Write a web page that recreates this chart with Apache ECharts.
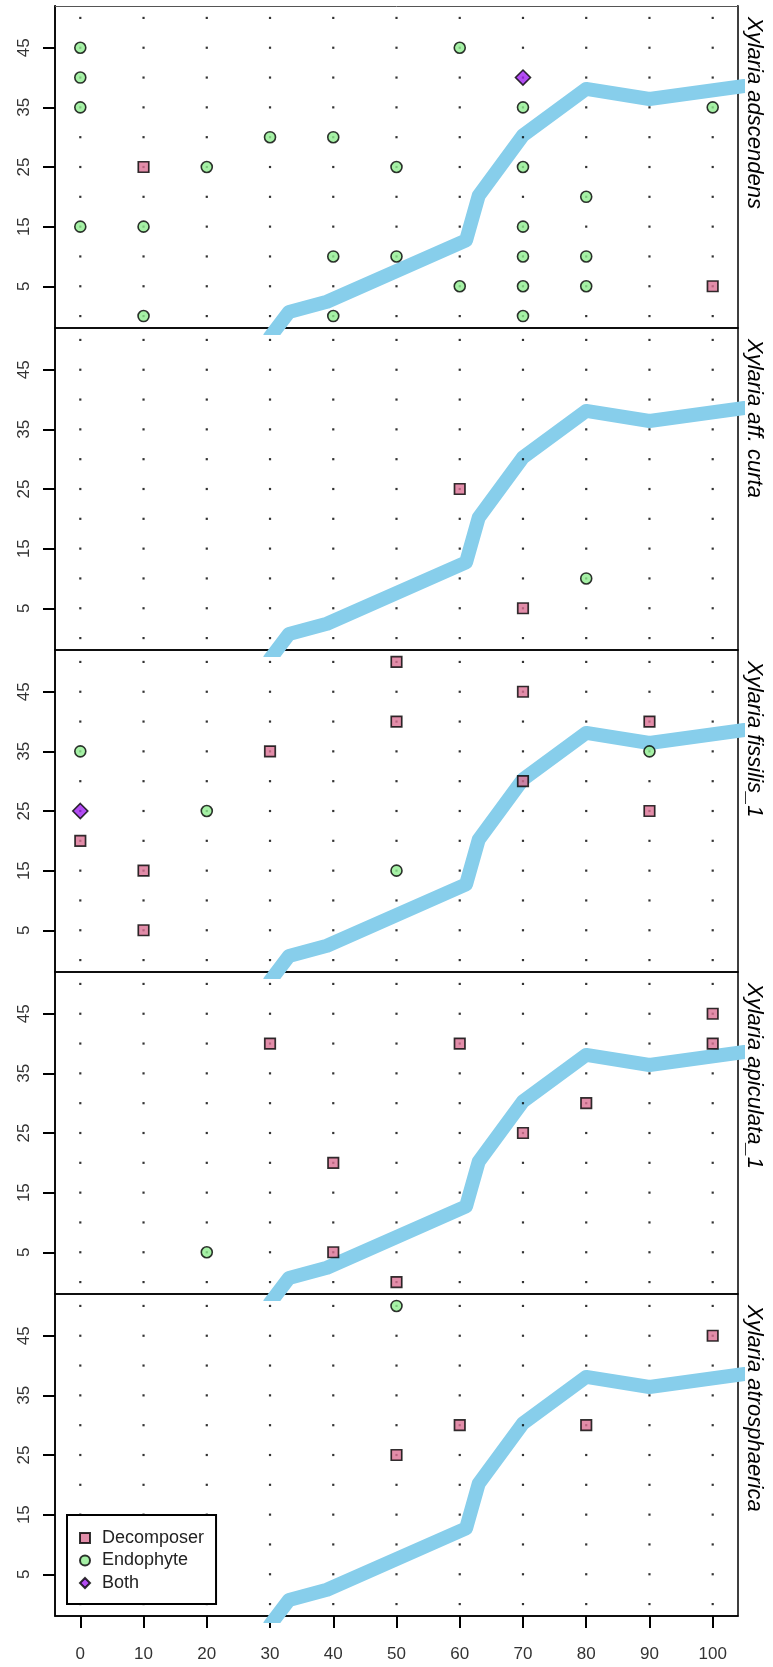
<!DOCTYPE html>
<html>
<head>
<meta charset="utf-8">
<script src="https://cdn.jsdelivr.net/npm/echarts@6/dist/echarts.min.js"></script>
<style>
html,body{margin:0;padding:0;background:#fff;}
#chart{width:773px;height:1667px;}
</style>
</head>
<body>
<div id="chart"></div>
<script>
// ---- data ----
const panelNames = ['Xylaria adscendens', 'Xylaria aff. curta', 'Xylaria fissilis_1', 'Xylaria apiculata_1', 'Xylaria atrosphaerica'];
const xTicks = [0, 10, 20, 30, 40, 50, 60, 70, 80, 90, 100];
const yTicks = [5, 15, 25, 35, 45];
const dotX = [0, 10, 20, 30, 40, 50, 60, 70, 80, 90, 100];
const dotY = [0, 5, 10, 15, 20, 25, 30, 35, 40, 45, 50];
const trendX = [30, 33, 39, 61, 63, 70, 80, 90, 105];
const trendY = [-3.5, 0.7, 2.4, 12.7, 20.2, 30.3, 38.1, 36.4, 38.6];

const decomposer1 = [[10, 25], [100, 5]];
const endophyte1 = [[0, 45], [0, 40], [0, 35], [0, 15], [10, 15], [10, 0], [20, 25], [30, 30], [40, 30], [40, 10], [40, 0],
  [50, 25], [50, 10], [60, 45], [60, 5], [70, 35], [70, 25], [70, 15], [70, 10], [70, 5], [70, 0], [80, 20], [80, 10], [80, 5], [100, 35]];
const both1 = [[70, 40]];

const decomposer2 = [[60, 25], [70, 5]];
const endophyte2 = [[80, 10]];
const both2 = [];

const decomposer3 = [[50, 50], [70, 45], [50, 40], [90, 40], [30, 35], [70, 30], [90, 25], [0, 20], [10, 15], [10, 5]];
const endophyte3 = [[0, 35], [90, 35], [20, 25], [50, 15]];
const both3 = [[0, 25]];

const decomposer4 = [[100, 45], [30, 40], [60, 40], [100, 40], [80, 30], [70, 25], [40, 20], [40, 5], [50, 0]];
const endophyte4 = [[20, 5]];
const both4 = [];

const decomposer5 = [[100, 45], [60, 30], [80, 30], [50, 25]];
const endophyte5 = [[50, 50]];
const both5 = [];

const decomposerSets = [decomposer1, decomposer2, decomposer3, decomposer4, decomposer5];
const endophyteSets = [endophyte1, endophyte2, endophyte3, endophyte4, endophyte5];
const bothSets = [both1, both2, both3, both4, both5];

// ---- layout ----
const FONT = '"Liberation Sans", Arial, sans-serif';
const X_MIN = -4, X_MAX = 104, Y_MIN = -2, Y_MAX = 52;
const GRID_LEFT = 55, GRID_WIDTH = 683, GRID_H = 322, GRID_TOP0 = 6;
const TICK_LEN = 12;
const gridTop = i => GRID_TOP0 + i * GRID_H;

const dotPoints = [];
dotX.forEach(x => dotY.forEach(y => dotPoints.push([x, y])));
const trendData = trendX.map((x, k) => [x, trendY[k]]);

const grids = [], xAxes = [], yAxes = [], series = [], graphics = [];
for (let i = 0; i < 5; i++) {
  const last = i === 4;
  grids.push({ left: GRID_LEFT, top: gridTop(i), width: GRID_WIDTH, height: GRID_H,
    show: true, borderColor: '#000', borderWidth: 1.5, backgroundColor: 'transparent' });
  xAxes.push({
    type: 'value', gridIndex: i, min: X_MIN, max: X_MAX, position: 'bottom',
    splitLine: { show: false },
    axisLine: { show: last, onZero: false, lineStyle: { color: '#000', width: 1.5 } },
    axisTick: { show: last, inside: false, length: TICK_LEN, lineStyle: { color: '#000', width: 2 }, customValues: xTicks },
    axisLabel: { show: last, customValues: xTicks, fontSize: 17, fontFamily: FONT, color: '#333', margin: 30 }
  });
  yAxes.push({
    type: 'value', gridIndex: i, min: Y_MIN, max: Y_MAX, position: 'left',
    splitLine: { show: false },
    axisLine: { show: true, onZero: false, lineStyle: { color: '#000', width: 1.5 } },
    axisTick: { show: true, inside: false, length: TICK_LEN, lineStyle: { color: '#000', width: 2 }, customValues: yTicks },
    axisLabel: { show: true, customValues: yTicks, rotate: 90, fontSize: 17, fontFamily: FONT, color: '#333', margin: 22 }
  });
  series.push({
    type: 'line', xAxisIndex: i, yAxisIndex: i, data: trendData, symbol: 'none', z: 1, silent: true,
    clip: true, lineStyle: { color: '#87CEEB', width: 14, cap: 'round', join: 'round' }
  });
  series.push({
    type: 'scatter', xAxisIndex: i, yAxisIndex: i, data: dotPoints, symbol: 'rect', symbolSize: 2.2, z: 2, silent: true,
    itemStyle: { color: '#000' }
  });
  series.push({
    name: 'Decomposer', type: 'scatter', xAxisIndex: i, yAxisIndex: i, data: decomposerSets[i], symbol: 'rect', symbolSize: 10.5,
    z: 3, itemStyle: { color: '#DB7093', borderColor: '#000', borderWidth: 1.7 }
  });
  series.push({
    name: 'Endophyte', type: 'scatter', xAxisIndex: i, yAxisIndex: i, data: endophyteSets[i], symbol: 'circle', symbolSize: 11,
    z: 3, itemStyle: { color: '#90EE90', borderColor: '#000', borderWidth: 1.6 }
  });
  series.push({
    name: 'Both', type: 'scatter', xAxisIndex: i, yAxisIndex: i, data: bothSets[i], symbol: 'diamond', symbolSize: 15,
    z: 3, itemStyle: { color: '#A020F0', borderColor: '#000', borderWidth: 1.6 }
  });
  graphics.push({
    type: 'text', x: 754, y: gridTop(i) + 11, rotation: -Math.PI / 2, z: 10,
    style: { text: panelNames[i], font: 'italic 22px ' + FONT, fill: '#000',
      align: 'left', verticalAlign: 'middle', textAlign: 'left', textVerticalAlign: 'middle' }
  });
}
// thin grey top border of the first panel
graphics.push({ type: 'line', z: 20, shape: { x1: GRID_LEFT + 1, y1: GRID_TOP0, x2: GRID_LEFT + GRID_WIDTH - 1, y2: GRID_TOP0 },
  style: { stroke: '#fff', lineWidth: 2.5 } });
graphics.push({ type: 'line', z: 21, shape: { x1: GRID_LEFT, y1: GRID_TOP0 + 0.5, x2: GRID_LEFT + GRID_WIDTH, y2: GRID_TOP0 + 0.5 },
  style: { stroke: '#555', lineWidth: 1 } });

const chart = echarts.init(document.getElementById('chart'), null, { renderer: 'canvas' });
chart.setOption({
  animation: false,
  backgroundColor: '#fff',
  grid: grids,
  xAxis: xAxes,
  yAxis: yAxes,
  series: series,
  graphic: graphics,
  legend: {
    data: ['Decomposer', 'Endophyte', 'Both'],
    orient: 'vertical', left: 67, top: 1515,
    selectedMode: false,
    itemWidth: 10, itemHeight: 10, itemGap: 4.5,
    padding: [14, 12, 12, 12],
    borderColor: '#000', borderWidth: 2, backgroundColor: '#fff',
    textStyle: { fontSize: 18, fontFamily: FONT, color: '#222', padding: [0, 0, 0, 7] }
  }
});
</script>
</body>
</html>
